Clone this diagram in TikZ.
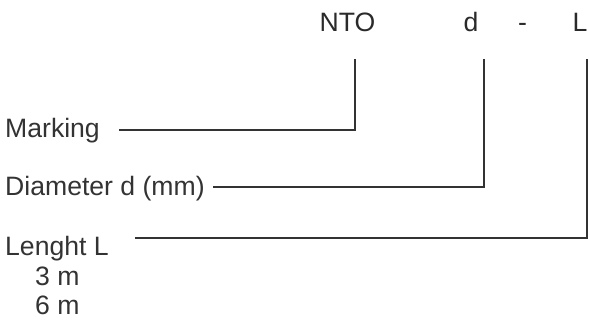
\documentclass[tikz,border=0pt]{standalone}
\usepackage{fontspec}
\setmainfont{Liberation Sans}
\definecolor{ink}{HTML}{333333}
\definecolor{inkd}{HTML}{2A2A2A}
\begin{document}
\begin{tikzpicture}[x=1pt,y=-1pt,
  lbl/.style={anchor=base west,inner sep=0pt,text=ink,font=\fontsize{26.6}{30}\selectfont},
  code/.style={anchor=base,inner sep=0pt,text=inkd,font=\fontsize{26.6}{30}\selectfont},
  conn/.style={draw=ink,line width=1.8pt}]
\useasboundingbox (0,0) rectangle (590,320);
\node[code] (nto) at (347.5,32) {NTO};
\node[code] (dd) at (471,32) {d};
\node[code] (dash) at (522.5,32) {-};
\node[code] (ll) at (580,32) {L};
\node[lbl] (mk) at (5,138) {Marking};
\node[lbl] (dia) at (5,196) {Diameter d (mm)};
\node[lbl] (len) at (5,256) {Lenght L};
\node[lbl] (l3) at (35,286) {3 m};
\node[lbl] (l6) at (35,315) {6 m};
\coordinate (m1) at (119,130);
\coordinate (m2) at (355,59);
\coordinate (d1) at (213,187);
\coordinate (d2) at (484,59);
\coordinate (e1) at (135,238);
\coordinate (e2) at (587,59);
\draw[conn] (m1) -| (m2);
\draw[conn] (d1) -| (d2);
\draw[conn] (e1) -| (e2);
\end{tikzpicture}
\end{document}
